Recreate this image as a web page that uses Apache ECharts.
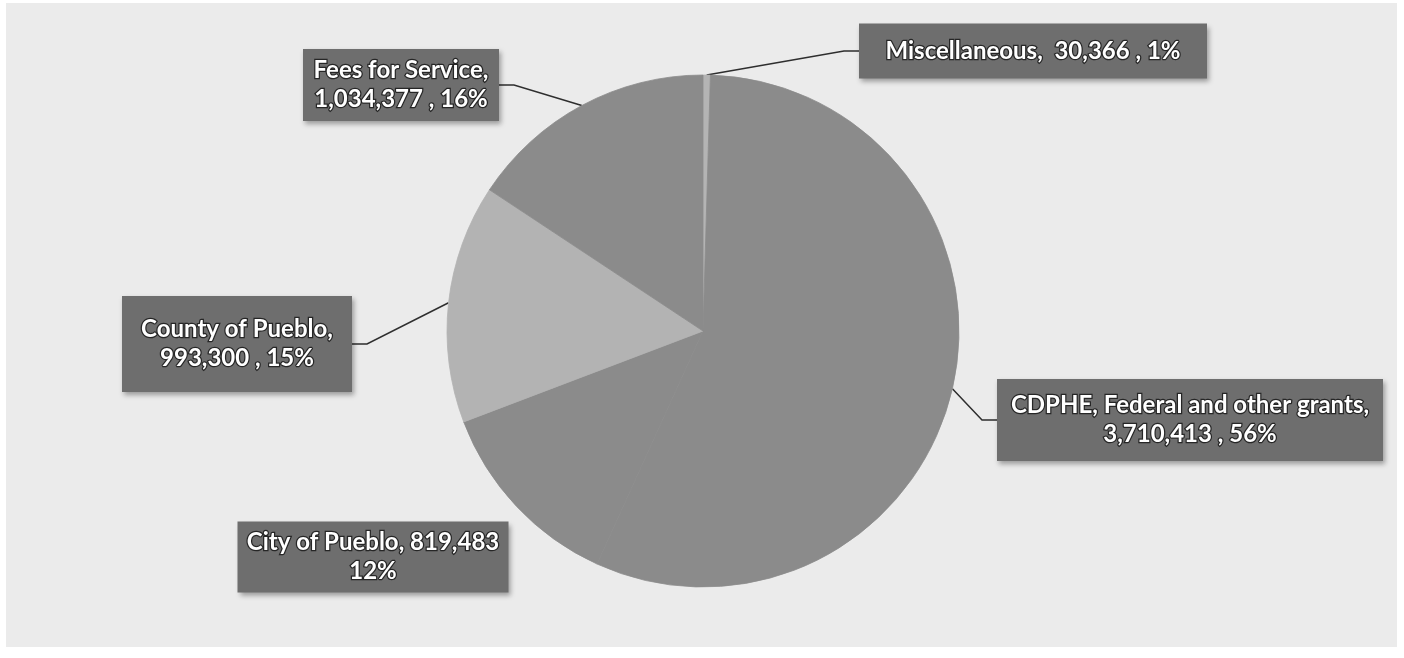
<!DOCTYPE html>
<html>
<head>
<meta charset="utf-8">
<script src="https://cdn.jsdelivr.net/npm/echarts@6/dist/echarts.min.js"></script>
<style>
html,body{margin:0;padding:0;background:#ffffff;}
#chart{width:1404px;height:658px;}
</style>
</head>
<body>
<div id="chart"></div>
<script>
// ---- data ----
const categories = ['Miscellaneous', 'CDPHE, Federal and other grants', 'City of Pueblo', 'County of Pueblo', 'Fees for Service'];
const values = [30366, 3710413, 819483, 993300, 1034377];
const percentLabels = ['1%', '56%', '12%', '15%', '16%'];
// text separators between name / value / percent, as printed on each label
const nameSeparators = [',  ', ',\n', ', ', ',\n', ',\n'];
const pctSeparators = [' , ', ' , ', '\n', ' , ', ' , '];

// ---- styling / layout (not data) ----
const sliceColors = ['#b4b4b4', '#8b8b8b', '#8b8b8b', '#b3b3b3', '#8b8b8b'];
const labelCenters = [[1033, 51], [1190, 420], [373, 557], [237, 344], [401, 85]];
const labelBoxes = [[348, 55], [386, 82], [271, 71], [230, 96], [196, 72]];
const showLines = [true, true, false, true, true];
const FONT_SIZE = 24, LINE_H = 29, FONT_FAMILY = 'Lato';

const fmt = v => v.toLocaleString('en-US');
const texts = categories.map((c, i) => c + nameSeparators[i] + fmt(values[i]) + pctSeparators[i] + percentLabels[i]);

const ctx = document.createElement('canvas').getContext('2d');
ctx.font = 'bold ' + FONT_SIZE + 'px ' + FONT_FAMILY;
function paddingFor(i) {
  const lines = texts[i].split('\n');
  const w = Math.max.apply(null, lines.map(l => ctx.measureText(l).width));
  const h = lines.length * LINE_H;
  const ph = Math.max(2, (labelBoxes[i][0] - w) / 2);
  const pv = Math.max(2, (labelBoxes[i][1] - h) / 2);
  return [pv, ph, pv, ph];
}

const seriesData = categories.map((c, i) => ({
  name: c,
  value: values[i],
  itemStyle: { color: sliceColors[i], borderColor: sliceColors[i], borderWidth: 0.8 },
  label: { padding: paddingFor(i) },
  labelLine: { show: showLines[i] }
}));

const chart = echarts.init(document.getElementById('chart'), null, { renderer: 'canvas' });
chart.setOption({
  animation: false,
  backgroundColor: '#ffffff',
  graphic: [{
    type: 'rect', z: -10, silent: true,
    shape: { x: 6, y: 3, width: 1391, height: 644 },
    style: { fill: '#ebebeb' }
  }],
  series: [{
    type: 'pie',
    center: [703, 331],
    radius: 256,
    startAngle: 90,
    clockwise: true,
    data: seriesData,
    emphasis: { disabled: true },
    label: {
      show: true,
      position: 'outside',
      formatter: p => texts[p.dataIndex],
      color: '#ffffff',
      fontFamily: FONT_FAMILY,
      fontWeight: 'bold',
      fontSize: FONT_SIZE,
      lineHeight: LINE_H,
      align: 'center',
      textBorderColor: 'rgba(30,30,30,0.9)',
      textBorderWidth: 2.5,
      backgroundColor: '#6e6e6e',
      shadowColor: 'rgba(0,0,0,0.35)',
      shadowBlur: 5,
      shadowOffsetX: 2,
      shadowOffsetY: 3
    },
    labelLine: {
      show: true,
      length: 15,
      length2: 15,
      lineStyle: { color: '#2e2e2e', width: 1.5 }
    },
    labelLayout: function (params) {
      const i = params.dataIndex;
      return {
        x: labelCenters[i][0],
        y: labelCenters[i][1],
        align: 'center',
        verticalAlign: 'middle'
      };
    }
  }]
});
</script>
</body>
</html>
